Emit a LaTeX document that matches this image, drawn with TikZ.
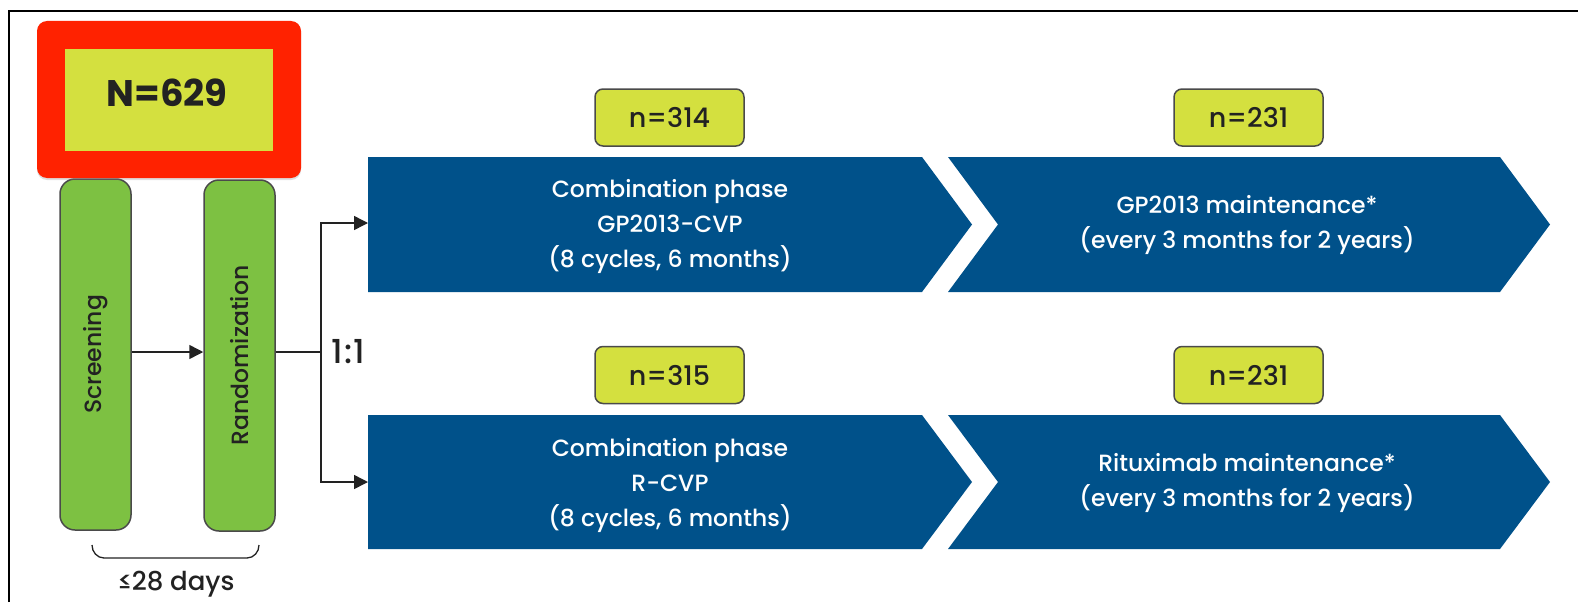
\documentclass[tikz,border=0pt]{standalone}
\usepackage{fontspec}
\setmainfont{Poppins}
\IfFontExistsTF{Poppins Medium}
  {\newfontfamily\medf{Poppins Medium}}
  {\newfontfamily\medf{Poppins}[FakeBold=0.4]}
\usetikzlibrary{arrows.meta,shadows,calc}
\definecolor{bluec}{HTML}{00518A}
\definecolor{greenc}{HTML}{7DC142}
\definecolor{yellowc}{HTML}{D4E03F}
\definecolor{redc}{HTML}{FF2200}
\definecolor{linec}{HTML}{222222}
\definecolor{edgec}{HTML}{4A4A4A}
\begin{document}
\begin{tikzpicture}[x=1pt,y=-1pt,
  txt/.style={text=white, font=\medf\fontsize{23.5}{35}\selectfont, align=center},
  nbox/.style={draw=edgec, line width=1.5pt, fill=yellowc, rounded corners=8pt,
    minimum width=149pt, minimum height=57pt, inner sep=0pt,
    font=\medf\fontsize{27}{30}\selectfont, text=linec},
  gbox/.style={draw=edgec, line width=1.5pt, fill=greenc, rounded corners=15pt,
    minimum width=351pt, minimum height=71pt, inner sep=0pt, rotate=90,
    font=\medf\fontsize{23.5}{26}\selectfont, text=linec},
  conn/.style={draw=linec, line width=1.5pt},
  arr/.style={conn, -{Triangle[length=14pt,width=14pt]}},
  blueshape/.style={fill=bluec},
]
\useasboundingbox (0,0) rectangle (1578,602);
\fill[white] (0,0) rectangle (1578,602);
\draw[line width=2pt, black] (9,602) -- (9,11) -- (1578,11);

% green boxes
\node[gbox] (screen) at (95.5,354.5) {Screening};
\node[gbox] (rand) at (239.5,355.5) {Randomization};

% total box
\node[fill=redc, rounded corners=10pt, minimum width=264pt, minimum height=157pt,
  inner sep=0pt, drop shadow={opacity=0.25, shadow xshift=0pt, shadow yshift=-2pt}] (nred) at (169,99.5) {};
\node[fill=yellowc, minimum width=208pt, minimum height=102pt, inner sep=0pt] (nyel) at (169,100) {};
\node[font=\bfseries\fontsize{37}{40}\selectfont, text=linec] (ntot) at (167,93) {N=629};

% blue chevrons
\fill[blueshape] (368,157) -- (922,157) -- (972,224.5) -- (922,292) -- (368,292) -- cycle;
\fill[blueshape] (948,157) -- (1500,157) -- (1550,224.5) -- (1500,292) -- (948,292) -- (998,224.5) -- cycle;
\fill[blueshape] (368,415) -- (922,415) -- (972,482) -- (922,549) -- (368,549) -- cycle;
\fill[blueshape] (948,415) -- (1500,415) -- (1550,482) -- (1500,549) -- (948,549) -- (998,482) -- cycle;

\node[txt] (comb1) at (670,226) {Combination phase\\GP2013-CVP\\(8 cycles, 6 months)};
\node[txt] (maint1) at (1247,225) {GP2013 maintenance*\\(every 3 months for 2 years)};
\node[txt] (comb2) at (670,485) {Combination phase\\R-CVP\\(8 cycles, 6 months)};
\node[txt] (maint2) at (1247,482.5) {Rituximab maintenance*\\(every 3 months for 2 years)};

% n boxes
\node[nbox] (n1) at (669.5,117.5) {n=314};
\node[nbox] (n2) at (1248.5,117.5) {n=231};
\node[nbox] (n3) at (669.5,375) {n=315};
\node[nbox] (n4) at (1248.5,375) {n=231};

% connectors
\coordinate (split) at (321,352);
\coordinate (c1w) at (368,223);
\coordinate (c2w) at (368,482);
\draw[arr] (screen.south |- split) -- (rand.north |- split);
\draw[conn] (rand.south |- split) -- (split);
\draw[arr] (split) |- (c1w);
\draw[arr] (split) |- (c2w);
\node[anchor=west, font=\medf\fontsize{33}{35}\selectfont, text=linec] (ratio) at (328,352) {1\kern1pt:\kern1pt1};

% brace
\draw[conn, line width=1.3pt] (92,545) to[out=-90,in=180] (104,558) -- (247,558) to[out=0,in=-90] (259,545);
\node[font=\medf\fontsize{26}{28}\selectfont, text=linec] (days) at (176,584) {≤28 days};
\end{tikzpicture}
\end{document}
